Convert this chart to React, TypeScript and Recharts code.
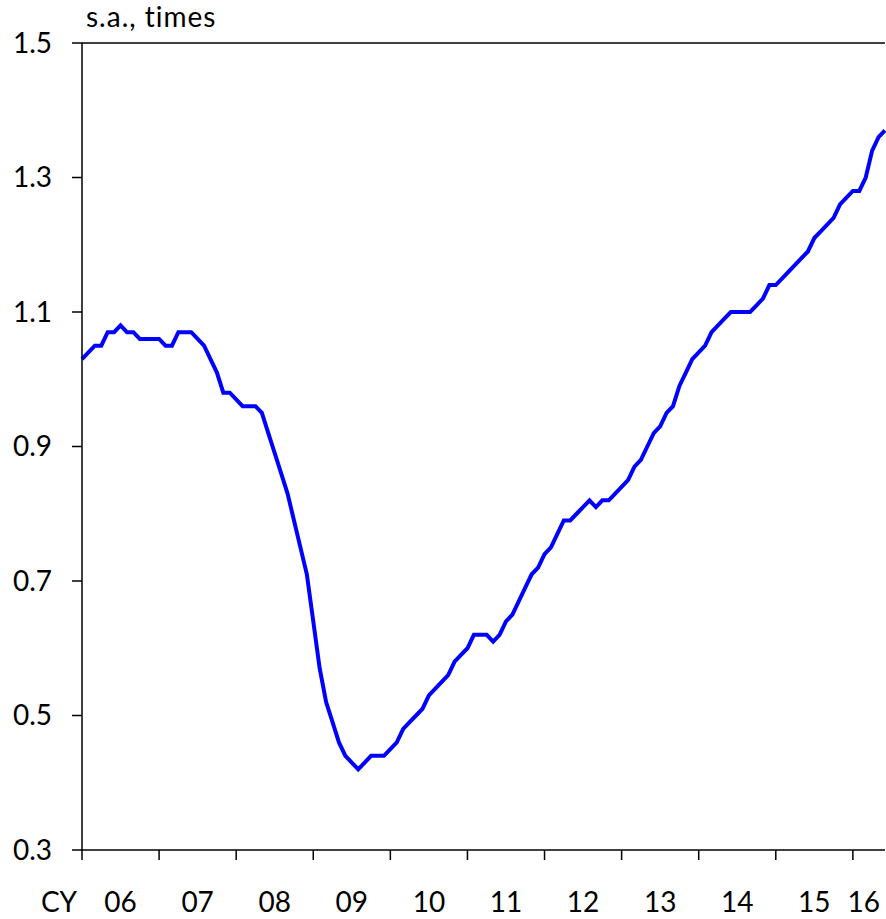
import React from 'react';
import { LineChart, Line, XAxis, YAxis, ReferenceLine } from 'recharts';

// monthly, Jan 2006 .. Jun 2016 (s.a., times)
const RATIO = [
  1.03, 1.04, 1.05, 1.05, 1.07, 1.07, 1.08, 1.07, 1.07, 1.06, 1.06, 1.06,
  1.06, 1.05, 1.05, 1.07, 1.07, 1.07, 1.06, 1.05, 1.03, 1.01, 0.98, 0.98,
  0.97, 0.96, 0.96, 0.96, 0.95, 0.92, 0.89, 0.86, 0.83, 0.79, 0.75, 0.71,
  0.64, 0.57, 0.52, 0.49, 0.46, 0.44, 0.43, 0.42, 0.43, 0.44, 0.44, 0.44,
  0.45, 0.46, 0.48, 0.49, 0.5, 0.51, 0.53, 0.54, 0.55, 0.56, 0.58, 0.59,
  0.6, 0.62, 0.62, 0.62, 0.61, 0.62, 0.64, 0.65, 0.67, 0.69, 0.71, 0.72,
  0.74, 0.75, 0.77, 0.79, 0.79, 0.8, 0.81, 0.82, 0.81, 0.82, 0.82, 0.83,
  0.84, 0.85, 0.87, 0.88, 0.9, 0.92, 0.93, 0.95, 0.96, 0.99, 1.01, 1.03,
  1.04, 1.05, 1.07, 1.08, 1.09, 1.1, 1.1, 1.1, 1.1, 1.11, 1.12, 1.14,
  1.14, 1.15, 1.16, 1.17, 1.18, 1.19, 1.21, 1.22, 1.23, 1.24, 1.26, 1.27,
  1.28, 1.28, 1.3, 1.34, 1.36, 1.37,
];

const YEARS = ['06', '07', '08', '09', '10', '11', '12', '13', '14', '15', '16'];
const YEAR_STARTS = [0, 12, 24, 36, 48, 60, 72, 84, 96, 108, 120];
const YEAR_MIDS = [6, 18, 30, 42, 54, 66, 78, 90, 102, 114, 121.7];
const Y_TICKS = [0.3, 0.5, 0.7, 0.9, 1.1, 1.3, 1.5];

const data = RATIO.map((v, i) => ({ i, v }));

const FONT = 'Lato, sans-serif';
const FS = 28;

const yearLabel = (v: number) => {
  const k = YEAR_MIDS.indexOf(v);
  return k >= 0 ? YEARS[k] : '';
};

export default function App() {
  return (
    <div style={{ position: 'absolute', left: 0, top: 0, background: '#fff' }}>
      <LineChart width={886} height={919} data={data} margin={{ top: 43, right: 1, bottom: 0, left: 0 }}>
        <ReferenceLine y={1.5} xAxisId="a_ticks" stroke="#000" strokeWidth={1.5} />
        <XAxis
          xAxisId="a_ticks"
          dataKey="i"
          type="number"
          domain={[0, 125]}
          ticks={YEAR_STARTS}
          tickFormatter={() => ''}
          tickSize={10}
          height={12}
          stroke="#000"
          strokeWidth={1.5}
          tickLine={{ stroke: '#000', strokeWidth: 1.5 }}
        />
        {/* year labels, centred in each year */}
        <XAxis
          xAxisId="b_labels"
          dataKey="i"
          type="number"
          domain={[0, 125]}
          ticks={YEAR_MIDS}
          tickFormatter={yearLabel}
          axisLine={false}
          tickLine={false}
          tickSize={0}
          tickMargin={30}
          height={57}
          interval={0}
          tick={{ fontFamily: FONT, fontSize: FS, fill: '#000' }}
          label={{
            content: ({ viewBox }: any) => (
              <text x={viewBox.x - 23} y={viewBox.y + 50} textAnchor="middle" fontFamily={FONT} fontSize={FS} fill="#000">
                CY
              </text>
            ),
          }}
        />
        <YAxis
          domain={[0.3, 1.5]}
          ticks={Y_TICKS}
          width={82}
          tickSize={10}
          tickMargin={20}
          interval={0}
          tickFormatter={(v: number) => v.toFixed(1)}
          stroke="#000"
          strokeWidth={1.5}
          tickLine={{ stroke: '#000', strokeWidth: 1.5 }}
          tick={{ fontFamily: FONT, fontSize: FS, fill: '#000' }}
          label={{
            content: ({ viewBox }: any) => (
              <text x={viewBox.x + viewBox.width + 4} y={viewBox.y - 16} fontFamily={FONT} fontSize={FS} letterSpacing={1} fill="#000">
                s.a., times
              </text>
            ),
          }}
        />
        <Line
          xAxisId="a_ticks"
          type="linear"
          dataKey="v"
          stroke="#0000ff"
          strokeWidth={4}
          dot={false}
          isAnimationActive={false}
        />
      </LineChart>
    </div>
  );
}
